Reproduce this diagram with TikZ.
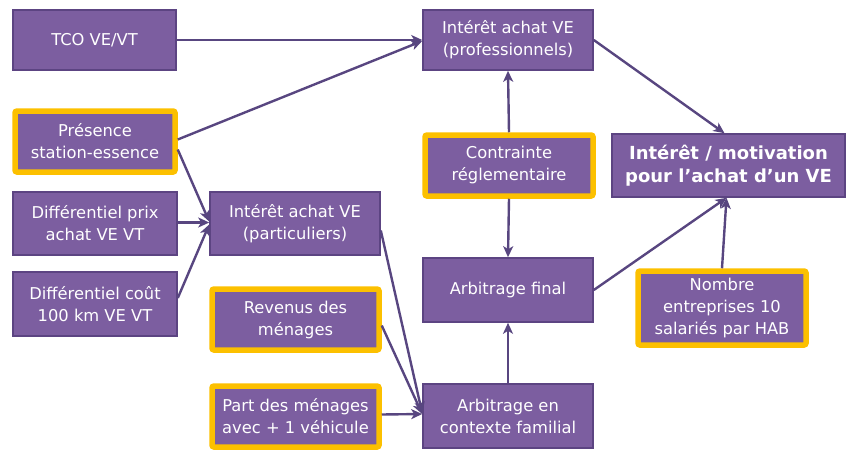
\documentclass[tikz,border=0pt]{standalone}
\usepackage{fontspec}
\setmainfont{DejaVu Sans}
\usetikzlibrary{arrows.meta}
\definecolor{boxfill}{RGB}{124,94,160}
\definecolor{boxedge}{RGB}{92,68,130}
\definecolor{linkcol}{RGB}{88,70,128}
\definecolor{keyyellow}{RGB}{252,192,0}
\tikzset{
  factor/.style={
    draw=boxedge, fill=boxfill, line width=1.6pt,
    text=white, align=center, inner sep=2pt,
    font=\fontsize{16.3}{22}\selectfont
  },
  keyfactor/.style={
    factor, draw=keyyellow, line width=5.5pt, rounded corners=2pt
  },
  link/.style={
    draw=linkcol, line width=2.4pt,
    -{Stealth[length=11pt,width=10pt,inset=3pt]}
  }
}

\begin{document}
\begin{tikzpicture}[x=1pt, y=-1pt]
  \useasboundingbox (0,0) rectangle (847,450);

  % ── left column ───────────────────────────────────────────────────
  \node[factor, minimum width=163, minimum height=60] (tco) at (94.5,40) {TCO VE/VT};
  \node[keyfactor, minimum width=160, minimum height=61] (station) at (95,141.5)
        {Présence\\station-essence};
  \node[factor, minimum width=164, minimum height=63] (prix) at (95,223.5)
        {Différentiel prix\\achat VE VT};
  \node[factor, minimum width=164, minimum height=64] (cout) at (95,304)
        {Différentiel coût\\100 km VE VT};

  % ── households ────────────────────────────────────────────────────
  \node[factor, minimum width=170, minimum height=63] (partic) at (295,223.5)
        {Intérêt achat VE\\(particuliers)};
  \node[keyfactor, minimum width=167, minimum height=61] (revenus) at (295.5,319.5)
        {Revenus des\\ménages};
  \node[keyfactor, minimum width=167, minimum height=61] (vehic) at (295.5,416.5)
        {Part des ménages\\avec + 1 véhicule};

  % ── middle column ─────────────────────────────────────────────────
  \node[factor, minimum width=170, minimum height=60] (pro) at (508,40)
        {Intérêt achat VE\\(professionnels)};
  \node[keyfactor, minimum width=168, minimum height=61] (contrainte) at (509,165.5)
        {Contrainte\\réglementaire};
  \node[factor, minimum width=170, minimum height=64] (final) at (508,290)
        {Arbitrage final};
  \node[factor, minimum width=170, minimum height=64] (familial) at (508,416)
        {Arbitrage en\\contexte familial};

  % ── right column ──────────────────────────────────────────────────
  \node[factor, minimum width=233, minimum height=63,
        font=\fontsize{18}{23}\selectfont\bfseries] (motiv) at (728.5,165.5)
        {Intérêt / motivation\\pour l’achat d’un VE};
  \node[keyfactor, minimum width=168, minimum height=74] (nombre) at (722,308)
        {Nombre\\entreprises 10\\salariés par HAB};

  % ── links ─────────────────────────────────────────────────────────
  \draw[link] (tco.east) -- (pro.west);
  \draw[link] ([yshift=2]station.east) -- ([yshift=-1]pro.west);
  \draw[link] ([yshift=-8]station.east) -- ([yshift=2]partic.west);
  \draw[link] ([yshift=1]prix.east) -- ([yshift=1]partic.west);
  \draw[link] ([yshift=6]cout.east) -- ([yshift=-1]partic.west);

  \draw[link] ([yshift=-7]partic.east) -- ([yshift=3]familial.west);
  \draw[link] ([yshift=-6]revenus.east) -- ([yshift=2]familial.west);
  \draw[link] ([yshift=2]vehic.east) -- ([yshift=2]familial.west);

  \draw[link] (contrainte.north) -- (pro.south);
  \draw[link] (contrainte.south) -- (final.north);
  \draw[link] (familial.north) -- (final.south);

  \draw[link] (pro.east) -- ([xshift=-4]motiv.north);
  \draw[link] (final.east) -- ([xshift=-2]motiv.south);
  \draw[link] (nombre.north) -- ([xshift=-2]motiv.south);
\end{tikzpicture}
\end{document}
